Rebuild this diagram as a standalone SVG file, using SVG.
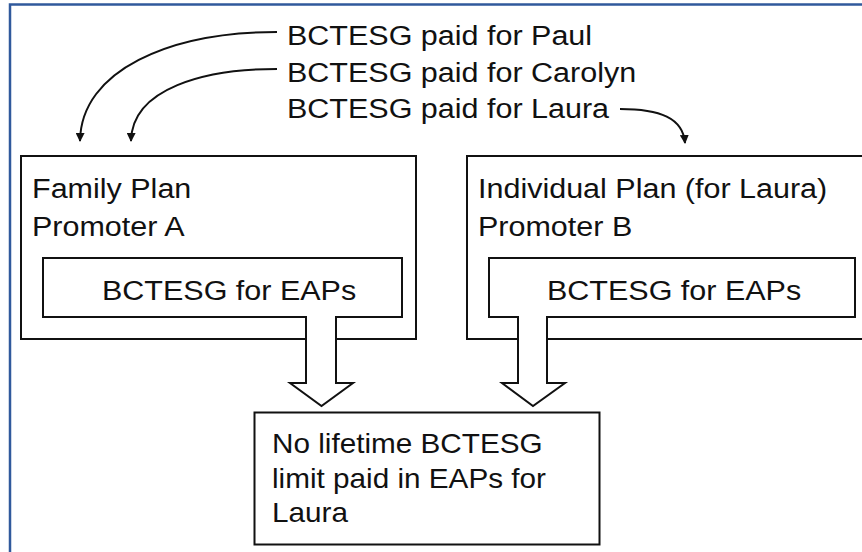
<svg xmlns="http://www.w3.org/2000/svg" width="862" height="552" viewBox="0 0 862 552">
<defs>
<style>
.t{font-family:"Liberation Sans",Arial,sans-serif;font-size:28px;fill:#111}
.tb{font-family:"Liberation Sans",Arial,sans-serif;font-size:27px;fill:#111}
.box{fill:#fff;stroke:#111;stroke-width:2}
.blk{fill:#fff;stroke:#111;stroke-width:2;stroke-linejoin:miter}
.cur{fill:none;stroke:#111;stroke-width:2;marker-end:url(#ah)}
</style>
<marker id="ah" viewBox="0 0 10 10" refX="9" refY="5" markerWidth="4.5" markerHeight="4.5" orient="auto" markerUnits="strokeWidth">
<path d="M0,0 L10,5 L0,10 Z" fill="#111"/>
</marker>
</defs>
<rect x="0" y="0" width="862" height="552" fill="#fff"/>
<path d="M10,560 V4.5 H870" fill="none" stroke="#30599C" stroke-width="2.5"/>

<g id="label-paul"><text class="t" transform="translate(287,45) scale(1.09,1)">BCTESG paid for Paul</text></g>
<g id="label-carolyn"><text class="t" transform="translate(287,81.5) scale(1.09,1)">BCTESG paid for Carolyn</text></g>
<g id="label-laura"><text class="t" transform="translate(287,118) scale(1.09,1)">BCTESG paid for Laura</text></g>

<g id="family-plan">
<rect class="box" x="21" y="156" width="395" height="183"/>
<text class="t" transform="translate(32,198) scale(1.09,1)">Family Plan</text>
<text class="t" transform="translate(32,236) scale(1.09,1)">Promoter A</text>
<rect class="box" x="43" y="258" width="359" height="59"/>
<text class="t" transform="translate(102,300) scale(1.09,1)">BCTESG for EAPs</text>
</g>

<g id="individual-plan">
<rect class="box" x="467" y="156" width="420" height="183"/>
<text class="t" transform="translate(478,198) scale(1.09,1)">Individual Plan (for Laura)</text>
<text class="t" transform="translate(478,236) scale(1.09,1)">Promoter B</text>
<rect class="box" x="489" y="258" width="366" height="59"/>
<text class="t" transform="translate(547,300) scale(1.09,1)">BCTESG for EAPs</text>
</g>

<g id="result">
<rect class="box" x="254.5" y="412.5" width="345" height="132"/>
<text class="tb" transform="translate(272,452.5) scale(1.1,1)">No lifetime BCTESG</text>
<text class="tb" transform="translate(272,487.5) scale(1.1,1)">limit paid in EAPs for</text>
<text class="tb" transform="translate(272,522) scale(1.1,1)">Laura</text>
</g>

<g id="connectors">
<path class="cur" d="M277,32 C170,32 81,70 80,141"/>
<path class="cur" d="M277,69 C205,69 132,88 131,141"/>
<path class="cur" d="M620,109 C660,109 683,118 685,143"/>
<path class="blk" d="M306,316 V383 H290 L321.5,406 L353,383 H336 V316"/>
<path class="blk" d="M518,316 V383 H502 L533,406 L565,383 H547 V316"/>
</g>
</svg>
